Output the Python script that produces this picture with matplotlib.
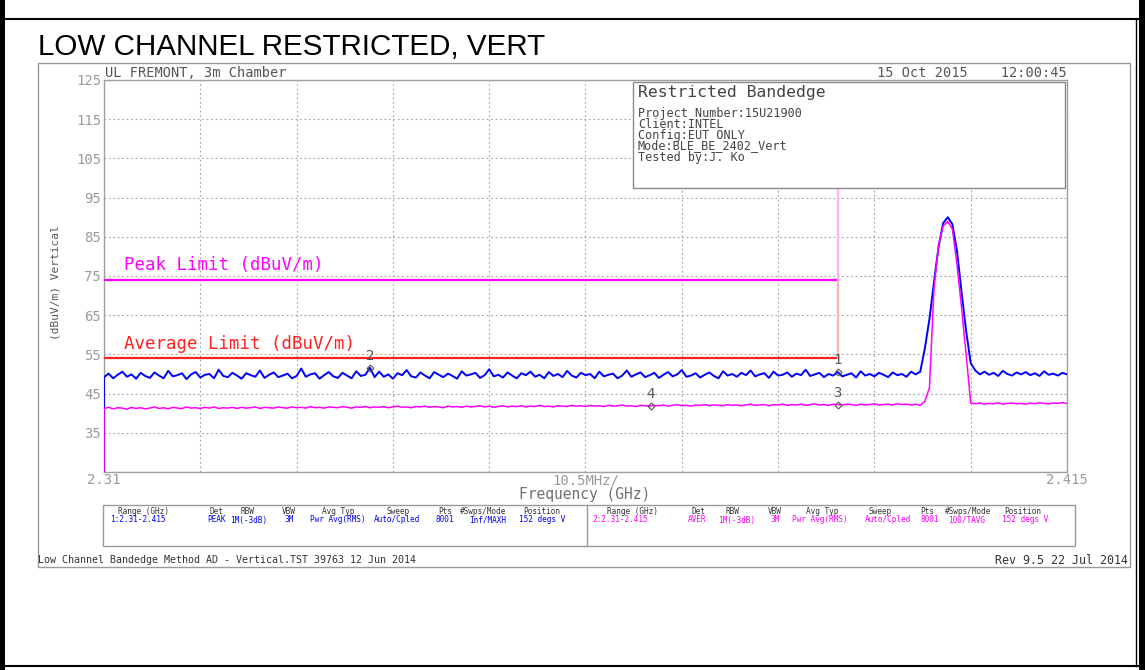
import numpy as np
import matplotlib
matplotlib.use("Agg")
import matplotlib.pyplot as plt
from matplotlib.patches import Rectangle
from matplotlib.lines import Line2D

# ---------------- data ----------------
freq_start_ghz = 2.310
freq_stop_ghz = 2.415
freq_step_ghz = 0.0005
y_min, y_max = 25, 125
trace_start_level = 25

peak_limit = 74.0
avg_limit = 54.0
band_edge_ghz = 2.39

# Trace 1: peak detector (blue), 0.5 MHz spacing from 2.310 to 2.415 GHz
peak_trace = [
    49.2, 50.1, 48.9, 49.8, 50.6, 49.3, 49.9, 48.8, 50.3, 49.5,
    49.0, 50.4, 49.6, 48.9, 50.8, 49.4, 49.7, 50.2, 48.7, 49.9,
    50.5, 49.1, 49.8, 50.0, 48.9, 51.1, 49.5, 49.2, 50.3, 49.6,
    48.8, 50.2, 49.7, 49.3, 50.9, 49.0, 49.8, 50.4, 49.2, 49.6,
    50.1, 48.9, 49.5, 51.4, 49.3, 49.9, 50.2, 48.8, 49.7, 50.5,
    49.4, 49.0, 50.3, 49.6, 48.9, 50.7, 49.5, 49.8, 51.6, 49.2,
    50.6, 49.3, 49.9, 48.8, 50.2, 49.7, 51.0, 49.4, 49.1, 50.4,
    49.6, 48.9, 50.5, 49.8, 49.2, 50.1, 49.5, 48.8, 50.7, 49.6,
    49.9, 50.3, 49.0, 49.7, 51.2, 49.4, 49.8, 49.1, 50.4, 49.6,
    48.9, 50.2, 49.7, 50.6, 49.3, 49.8, 48.9, 50.5, 49.5, 50.0,
    49.2, 50.8, 49.6, 49.1, 50.3, 49.7, 50.0, 48.9, 50.6, 49.4,
    49.8, 50.1, 48.9, 49.6, 50.9, 49.3, 49.9, 50.4, 49.2, 49.7,
    50.3, 49.0, 49.8, 50.5, 49.4, 49.9, 51.0, 49.3, 49.6, 50.2,
    49.1, 49.8, 50.4, 49.5, 48.9, 50.7, 49.6, 50.0, 49.3, 50.3,
    49.7, 50.9, 49.4, 49.9, 50.2, 49.0, 50.6, 49.6, 49.8, 50.4,
    49.3, 50.1, 49.7, 51.1, 49.5, 49.9, 50.3, 49.2, 50.0, 49.6,
    50.5, 49.4, 49.8, 50.2, 49.1, 50.7, 49.6, 50.0, 49.4, 50.3,
    49.8, 49.2, 50.4, 49.7, 50.0, 49.3, 50.6, 49.9, 50.6, 56.5,
    64.0, 73.5, 82.5, 88.5, 90.0, 88.2, 81.5, 71.0, 61.0, 52.8,
    50.9, 49.9, 50.6, 49.8, 50.3, 49.5, 50.8, 50.0, 49.6, 50.4,
    49.9, 50.5, 49.7, 50.2, 49.5, 50.7, 49.8, 50.1, 49.6, 50.3,
    49.9,
]

# Trace 2: average detector (magenta)
avg_trace = [
    41.2, 41.5, 41.1, 41.4, 41.3, 41.0, 41.5, 41.2, 41.4, 41.1,
    41.3, 41.6, 41.2, 41.4, 41.1, 41.5, 41.3, 41.2, 41.6, 41.3,
    41.4, 41.2, 41.5, 41.3, 41.6, 41.2, 41.4, 41.3, 41.5, 41.2,
    41.5, 41.3, 41.4, 41.6, 41.2, 41.5, 41.4, 41.3, 41.6, 41.4,
    41.3, 41.6, 41.4, 41.5, 41.3, 41.7, 41.4, 41.5, 41.3, 41.6,
    41.5, 41.4, 41.7, 41.5, 41.3, 41.6, 41.5, 41.7, 41.4, 41.6,
    41.5, 41.7, 41.4, 41.6, 41.8, 41.5, 41.6, 41.4, 41.7, 41.6,
    41.8, 41.5, 41.7, 41.6, 41.4, 41.8, 41.6, 41.7, 41.5, 41.8,
    41.6, 41.7, 41.9, 41.6, 41.8, 41.5, 41.7, 41.9, 41.6, 41.8,
    41.7, 41.9, 41.6, 41.8, 41.7, 42.0, 41.7, 41.8, 41.6, 41.9,
    41.8, 41.7, 42.0, 41.8, 41.9, 41.7, 42.0, 41.8, 41.9, 41.7,
    42.0, 41.8, 41.9, 42.1, 41.8, 41.9, 41.7, 42.0, 41.9, 41.8,
    42.0, 41.9, 42.1, 41.8, 42.0, 42.2, 41.9, 42.0, 41.8, 42.1,
    42.0, 42.2, 41.9, 42.1, 42.0, 41.9, 42.2, 42.0, 42.1, 41.9,
    42.1, 42.3, 42.0, 42.1, 42.2, 41.9, 42.2, 42.1, 42.3, 42.0,
    42.2, 42.1, 42.3, 42.0, 42.2, 42.4, 42.1, 42.2, 42.0, 42.3,
    42.2, 42.1, 42.3, 42.2, 42.0, 42.3, 42.1, 42.2, 42.4, 42.1,
    42.2, 42.3, 42.1, 42.4, 42.2, 42.3, 42.1, 42.3, 42.0, 43.0,
    46.5, 72.0, 83.0, 87.8, 88.9, 87.0, 78.0, 67.0, 55.0, 42.6,
    42.4, 42.6, 42.3, 42.5, 42.4, 42.7, 42.3, 42.5, 42.6, 42.4,
    42.5, 42.3, 42.6, 42.4, 42.7, 42.5, 42.4, 42.6, 42.5, 42.7,
    42.5,
]

marker_ids = ["1", "2", "3", "4"]
marker_freqs = [2.39, 2.339, 2.39, 2.3696]
marker_levels = [50.5, 51.6, 42.2, 41.8]

y_ticks = [25, 35, 45, 55, 65, 75, 85, 95, 105, 115, 125]
y_tick_labels = ["", "35", "45", "55", "65", "75", "85", "95", "105", "115", "125"]
x_tick_labels = ["2.31", "", "", "", "", "10.5MHz/", "", "", "", "", "2.415"]

title_text = "LOW CHANNEL RESTRICTED, VERT"
site_text = "UL FREMONT, 3m Chamber"
date_text = "15 Oct 2015    12:00:45"
info_title = "Restricted Bandedge"
info_lines = ["Project Number:15U21900", "Client:INTEL", "Config:EUT ONLY",
              "Mode:BLE_BE_2402_Vert", "Tested by:J. Ko"]
table_headers = ["Range (GHz)", "Det", "RBW", "VBW", "Avg Typ", "Sweep",
                 "Pts", "#Swps/Mode", "Position"]
table_row1 = ["1:2.31-2.415", "PEAK", "1M(-3dB)", "3M", "Pwr Avg(RMS)",
              "Auto/Cpled", "8001", "Inf/MAXH", "152 degs V"]
table_row2 = ["2:2.31-2.415", "AVER", "1M(-3dB)", "3M", "Pwr Avg(RMS)",
              "Auto/Cpled", "8001", "100/TAVG", "152 degs V"]
footer_left = "Low Channel Bandedge Method AD - Vertical.TST 39763 12 Jun 2014"
footer_right = "Rev 9.5 22 Jul 2014"

# ---------------- figure ----------------
W, H = 1145, 670
MONO = "DejaVu Sans Mono"
GRAY = "#9a9a9a"
BLUE = "#0000ff"
MAG = "#ff00ff"
RED = "#ff2020"


def fx(px):
    return px / W


def fy(py):
    return 1 - py / H


fig = plt.figure(figsize=(W / 100, H / 100), dpi=100)
fig.patch.set_facecolor("white")

ax = fig.add_axes([fx(104), fy(472), (1067 - 104) / W, (472 - 80) / H])

grid = np.round(np.arange(freq_start_ghz, freq_stop_ghz + freq_step_ghz / 2, freq_step_ghz), 4)
freqs = np.concatenate([[freq_start_ghz], grid])
pk = np.concatenate([[trace_start_level], peak_trace])
av = np.concatenate([[trace_start_level], avg_trace])

ax.plot(freqs, pk, color=BLUE, lw=1.4, zorder=4)
ax.plot(freqs, av, color=MAG, lw=1.1, zorder=5)

# limit lines and band edge
ax.plot([freq_start_ghz, band_edge_ghz], [peak_limit, peak_limit], color=MAG, lw=1.6, zorder=3)
ax.plot([freq_start_ghz, band_edge_ghz], [avg_limit, avg_limit], color=RED, lw=1.6, zorder=3)
ax.plot([band_edge_ghz, band_edge_ghz], [peak_limit, 97], color="#ffb0ff", lw=1.6, zorder=3)
ax.plot([band_edge_ghz, band_edge_ghz], [avg_limit, peak_limit], color="#ffb0b0", lw=1.6, zorder=3)

ax.text(2.3122, peak_limit + 1.4, "Peak Limit (dBuV/m)", color=MAG, family=MONO,
        fontsize=12.5, va="bottom", ha="left")
ax.text(2.3122, avg_limit + 1.4, "Average Limit (dBuV/m)", color=RED, family=MONO,
        fontsize=12.5, va="bottom", ha="left")

# markers
for mid, mf, ml in zip(marker_ids, marker_freqs, marker_levels):
    ax.plot([mf], [ml], marker="D", ms=3.5, mfc="none", mec="#555555", mew=0.8, zorder=6)
    ax.text(mf, ml + 1.2, mid, color="#555555", family=MONO, fontsize=10,
            ha="center", va="bottom", zorder=6)

ax.set_xlim(freq_start_ghz, freq_stop_ghz)
ax.set_ylim(y_min, y_max)
ax.set_xticks(np.linspace(freq_start_ghz, freq_stop_ghz, 11))
ax.set_xticklabels(x_tick_labels)
ax.set_yticks(y_ticks)
ax.set_yticklabels(y_tick_labels)
ax.tick_params(length=0, colors=GRAY, labelsize=10, pad=2)
for lab in ax.get_xticklabels() + ax.get_yticklabels():
    lab.set_family(MONO)
ax.tick_params(axis="x", pad=1)
ax.grid(True, color="#a0a0a0", ls=(0, (1.5, 2.5)), lw=0.8, zorder=1)
for s in ax.spines.values():
    s.set_color("#a0a0a0")
    s.set_linewidth(1.0)
ax.set_facecolor("white")

fig.text(fx(585), fy(495), "Frequency (GHz)", family=MONO, fontsize=10.5, color="#707070",
         ha="center", va="center")
fig.text(fx(55), fy(283), "(dBuV/m) Vertical", family=MONO, fontsize=8, color="#555555",
         ha="center", va="center", rotation=90)

# title and header texts
fig.text(fx(38), fy(47), title_text, family="Liberation Sans", fontsize=21.3, color="black",
         ha="left", va="center")
fig.text(fx(105), fy(73), site_text, family=MONO, fontsize=9.8, color="#555555",
         ha="left", va="center")
fig.text(fx(1067), fy(73), date_text, family=MONO, fontsize=9.8, color="#555555",
         ha="right", va="center")

# info box
fig.patches.append(Rectangle((fx(633), fy(188)), (1065 - 633) / W, (188 - 82) / H,
                             transform=fig.transFigure, facecolor="white",
                             edgecolor="#8a8a8a", lw=1.0, zorder=5))
fig.text(fx(638), fy(93), info_title, family=MONO, fontsize=11.8, color="#444444",
         ha="left", va="center", zorder=6)
for i, line in enumerate(info_lines):
    fig.text(fx(638), fy(113 + 11 * i), line, family=MONO, fontsize=8.5, color="#444444",
             ha="left", va="center", zorder=6)

# outer frames
fig.patches.append(Rectangle((fx(38), fy(567)), (1130 - 38) / W, (567 - 63) / H,
                             transform=fig.transFigure, facecolor="none",
                             edgecolor="#9a9a9a", lw=1.0, zorder=2))
fig.patches.append(Rectangle((fx(103), fy(546)), (1075 - 103) / W, (546 - 505) / H,
                             transform=fig.transFigure, facecolor="none",
                             edgecolor="#9a9a9a", lw=1.0, zorder=2))
fig.lines.append(Line2D([fx(587), fx(587)], [fy(505), fy(546)], transform=fig.transFigure,
                        color="#9a9a9a", lw=1.0))

# outer black border
fig.lines.append(Line2D([fx(2), fx(1141), fx(1141), fx(2), fx(2)],
                        [fy(19), fy(19), fy(666), fy(666), fy(19)],
                        transform=fig.transFigure, color="black", lw=1.5))
fig.patches.append(Rectangle((0, 0), fx(5), 1, transform=fig.transFigure,
                             facecolor="black", edgecolor="none", zorder=3))
fig.patches.append(Rectangle((fx(1139), 0), fx(6), 1, transform=fig.transFigure,
                             facecolor="black", edgecolor="none", zorder=3))
fig.lines.append(Line2D([fx(1136), fx(1136)], [fy(19), fy(666)], transform=fig.transFigure,
                        color="black", lw=1.0))

# table
hdr_x1 = [143, 216, 247, 289, 338, 398, 445, 483, 542]
val_x1 = [138, 216, 249, 289, 338, 397, 445, 488, 542]
hdr_x2 = [632, 698, 732, 775, 822, 880, 927, 968, 1023]
val_x2 = [620, 697, 737, 775, 820, 888, 930, 967, 1025]
for h, x in zip(table_headers, hdr_x1):
    fig.text(fx(x), fy(512), h, family=MONO, fontsize=5.6, color="#333333", ha="center", va="center")
for h, x in zip(table_headers, hdr_x2):
    fig.text(fx(x), fy(512), h, family=MONO, fontsize=5.6, color="#333333", ha="center", va="center")
for v, x in zip(table_row1, val_x1):
    fig.text(fx(x), fy(520), v, family=MONO, fontsize=5.6, color=BLUE, ha="center", va="center")
for v, x in zip(table_row2, val_x2):
    fig.text(fx(x), fy(520), v, family=MONO, fontsize=5.6, color=MAG, ha="center", va="center")

# footer
fig.text(fx(38), fy(560), footer_left, family=MONO, fontsize=7.2, color="#333333",
         ha="left", va="center")
fig.text(fx(1128), fy(560), footer_right, family=MONO, fontsize=8.4, color="#333333",
         ha="right", va="center")

fig.savefig("out.png", dpi=100)
